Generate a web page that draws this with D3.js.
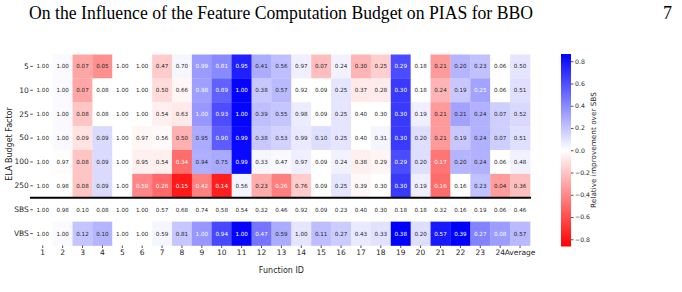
<html>
<head>
<meta charset="utf-8">
<title>ELA budget heatmap</title>
<style>
  body { margin: 0; background: #fff; }
  svg text { font-family: "DejaVu Sans", sans-serif; }
  .title { font-family: "Liberation Serif", serif; }
</style>
</head>
<body>
<script src="https://cdn.jsdelivr.net/npm/d3@7"></script>
<script>

var width = 682,
    height = 292;

// columns and rows
var functionIds = ["1","2","3","4","5","6","7","8","9","10","11","12","13","14","15","16","17","18","19","20","21","22","23","24","Average"];
var rowLabels = ["5","10","25","50","100","250","SBS","VBS"];

// cell values per row (same order as rowLabels)
var row5   = [1.00,1.00,0.07,0.05,1.00,1.00,0.47,0.70,0.99,0.81,0.95,0.41,0.56,0.97,0.07,0.24,0.30,0.25,0.29,0.18,0.21,0.20,0.23,0.06,0.50];
var row10  = [1.00,1.00,0.07,0.08,1.00,1.00,0.50,0.66,0.98,0.89,1.00,0.38,0.57,0.92,0.09,0.25,0.37,0.28,0.30,0.18,0.24,0.19,0.25,0.06,0.51];
var row25  = [1.00,1.00,0.08,0.08,1.00,1.00,0.54,0.63,1.00,0.93,1.00,0.39,0.55,0.98,0.09,0.25,0.40,0.30,0.30,0.19,0.21,0.21,0.24,0.07,0.52];
var row50  = [1.00,1.00,0.09,0.09,1.00,0.97,0.56,0.50,0.95,0.90,0.99,0.38,0.53,0.99,0.10,0.25,0.40,0.31,0.30,0.20,0.21,0.19,0.24,0.07,0.51];
var row100 = [1.00,0.97,0.08,0.09,1.00,0.95,0.54,0.34,0.94,0.75,0.99,0.33,0.47,0.97,0.09,0.24,0.38,0.29,0.29,0.20,0.17,0.20,0.24,0.06,0.48];
var row250 = [1.00,0.98,0.08,0.09,1.00,0.59,0.28,0.15,0.42,0.14,0.56,0.23,0.26,0.76,0.09,0.25,0.39,0.30,0.30,0.19,0.16,0.16,0.23,0.04,0.36];
var rowSBS = [1.00,0.98,0.10,0.08,1.00,1.00,0.57,0.68,0.74,0.58,0.54,0.32,0.46,0.92,0.09,0.23,0.40,0.30,0.18,0.18,0.32,0.16,0.19,0.06,0.46];
var rowVBS = [1.00,1.00,0.12,0.10,1.00,1.00,0.59,0.81,1.00,0.94,1.00,0.47,0.59,1.00,0.11,0.27,0.43,0.33,0.38,0.20,0.57,0.39,0.27,0.08,0.57];
var colorbarTicks = [-0.8,-0.6,-0.4,-0.2,0.0,0.2,0.4,0.6,0.8];
var vmax = 0.865;

var rows = [row5,row10,row25,row50,row100,row250,rowSBS,rowVBS];

var cells = [];
rows.forEach(function(r, i){
	r.forEach(function(v, j){
		var sbs = rowSBS[j];
		cells.push({row: rowLabels[i], col: functionIds[j], value: v, imp: (v - sbs) / sbs});
	});
});

var svg = d3.select("body").append("svg")
	.attr("width", width)
	.attr("height", height);

svg.append("text").attr("class","title")
	.attr("x", 29).attr("y", 19)
	.style("font-size", "18px")
	.attr("textLength", 504).attr("lengthAdjust", "spacingAndGlyphs")
	.text("On the Influence of the Feature Computation Budget on PIAS for BBO");
svg.append("text").attr("class","title")
	.attr("x", 672).attr("y", 19)
	.attr("text-anchor","end")
	.style("font-size", "18px")
	.text("7");

var hmLeft = 32.8, hmRight = 530, hmTop = 54.5, hmBottom = 245.5;

var x = d3.scaleBand().domain(functionIds).range([hmLeft, hmRight]);
var y = d3.scaleBand().domain(rowLabels).range([hmTop, hmBottom]);

// bwr_r
var color = d3.scaleLinear()
	.domain([-vmax, 0, vmax])
	.range(["#ff0000", "#ffffff", "#0000ff"])
	.clamp(true);

function lum(c){
	var rgb = d3.rgb(c);
	var f = function(v){ v = v / 255; return v <= 0.03928 ? v / 12.92 : Math.pow((v + 0.055) / 1.055, 2.4); };
	return 0.2126 * f(rgb.r) + 0.7152 * f(rgb.g) + 0.0722 * f(rgb.b);
}

var g = svg.append("g");
g.selectAll("rect")
	.data(cells)
	.enter()
	.append("rect")
	.attr("x", function(d){ return x(d.col); })
	.attr("y", function(d){ return y(d.row); })
	.attr("width", x.bandwidth() + 0.3)
	.attr("height", y.bandwidth() + 0.3)
	.attr("fill", function(d){ return color(d.imp); });

g.selectAll("text")
	.data(cells)
	.enter()
	.append("text")
	.attr("x", function(d){ return x(d.col) + x.bandwidth() / 2; })
	.attr("y", function(d){ return y(d.row) + y.bandwidth() / 2; })
	.attr("text-anchor", "middle")
	.attr("dy", "0.36em")
	.style("font-size", "5.6px")
	.style("fill", function(d){ return lum(color(d.imp)) > 0.408 ? "#262626" : "#ffffff"; })
	.text(function(d){ return d.value.toFixed(2); });

// thick separator between budget rows and SBS/VBS
svg.append("line")
	.attr("x1", 30).attr("x2", hmRight + 1)
	.attr("y1", y("SBS")).attr("y2", y("SBS"))
	.attr("stroke", "black").attr("stroke-width", 2.2);

// axes
var xAxis = svg.append("g")
	.attr("transform", "translate(0," + hmBottom + ")")
	.call(d3.axisBottom(x).tickSize(2.5).tickPadding(1.5));
var yAxis = svg.append("g")
	.attr("transform", "translate(" + hmLeft + ",0)")
	.call(d3.axisLeft(y).tickSize(2.5).tickPadding(1.5));
[xAxis, yAxis].forEach(function(a){
	a.select(".domain").remove();
	a.selectAll("text").style("font-size", "7.5px").attr("fill", "#262626")
		.style("font-family", "DejaVu Sans");
	a.selectAll("line").attr("stroke", "#262626").attr("stroke-width", 0.8);
});

svg.append("text")
	.attr("x", (hmLeft + hmRight) / 2).attr("y", 273)
	.attr("text-anchor", "middle")
	.style("font-size", "8px").attr("fill", "#262626")
	.text("Function ID");

svg.append("text")
	.attr("transform", "translate(12,144) rotate(-90)")
	.attr("text-anchor", "middle")
	.style("font-size", "8px").attr("fill", "#262626")
	.text("ELA Budget Factor");

// colorbar
var cbX = 561, cbW = 10;
var cb = d3.scaleLinear().domain([-vmax, vmax]).range([hmBottom + 1, hmTop - 0.5]);

var grad = svg.append("defs").append("linearGradient")
	.attr("id", "cbgrad")
	.attr("x1", "0").attr("y1", "1").attr("x2", "0").attr("y2", "0");
grad.selectAll("stop")
	.data([-vmax, 0, vmax])
	.enter()
	.append("stop")
	.attr("offset", function(d){ return (d + vmax) / (2 * vmax); })
	.attr("stop-color", function(d){ return color(d); });

svg.append("rect")
	.attr("x", cbX).attr("y", cb(vmax))
	.attr("width", cbW).attr("height", cb(-vmax) - cb(vmax))
	.attr("fill", "url(#cbgrad)");

var cbAxis = svg.append("g")
	.attr("transform", "translate(" + (cbX + cbW) + ",0)")
	.call(d3.axisRight(cb).tickValues(colorbarTicks).tickSize(2.5).tickPadding(1.5)
		.tickFormat(function(d){ return d3.format(".1f")(d).replace("-", "\u2212"); }));
cbAxis.select(".domain").remove();
cbAxis.selectAll("text").style("font-size", "6.2px").attr("fill", "#262626").style("font-family", "DejaVu Sans");
cbAxis.selectAll("line").attr("stroke", "#262626").attr("stroke-width", 0.8);

svg.append("text")
	.attr("transform", "translate(596,150) rotate(-90)")
	.attr("text-anchor", "middle")
	.style("font-size", "7.3px").attr("fill", "#262626")
	.text("Relative improvement over SBS");

</script>
</body>
</html>
